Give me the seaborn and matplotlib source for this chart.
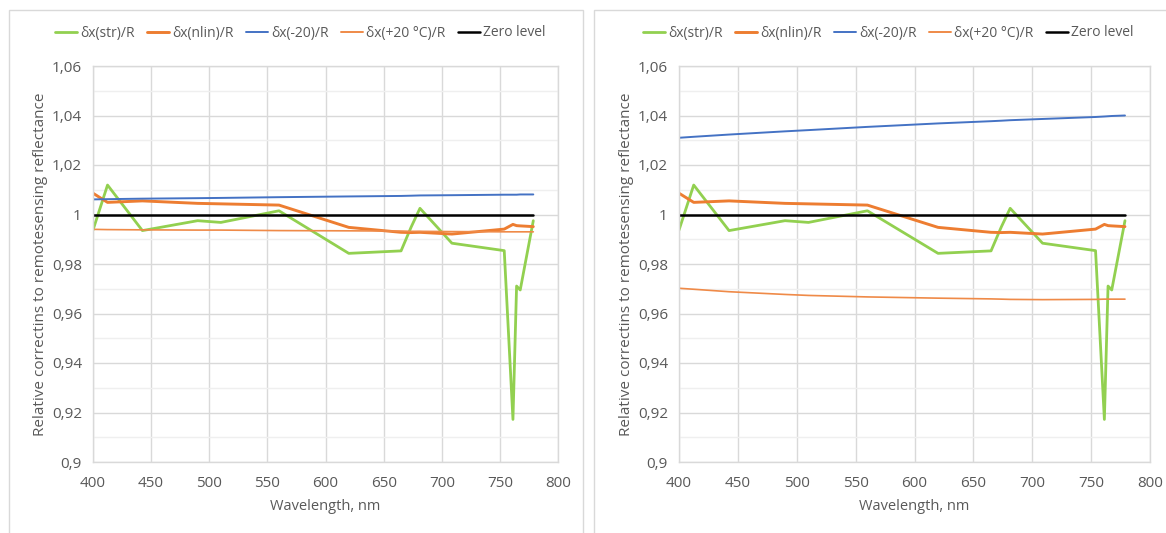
import matplotlib
matplotlib.use("Agg")
import matplotlib.pyplot as plt
import matplotlib.ticker as mticker
from matplotlib.patches import Rectangle
from matplotlib.lines import Line2D
import seaborn as sns

# ---------------- data ----------------
wavelength = [400, 412.5, 442.5, 490, 510, 560, 620, 665, 673.75, 681.25,
              708.75, 753.75, 761.25, 764.375, 767.5, 778.75]
dx_str = [0.9937, 1.0119, 0.9935, 0.9975, 0.9968, 1.0015, 0.9843, 0.9853,
          0.9950, 1.0025, 0.9884, 0.9854, 0.9172, 0.9711, 0.9695, 0.9975]
dx_nlin = [1.0086, 1.0049, 1.0055, 1.0045, 1.0043, 1.0038, 0.9948, 0.9928,
           0.9927, 0.9928, 0.9921, 0.9941, 0.9960, 0.9955, 0.9954, 0.9951]
dx_m20_left = [1.0061, 1.0062, 1.0064, 1.0066, 1.0067, 1.0070, 1.0073, 1.0075,
               1.0076, 1.0077, 1.0078, 1.0080, 1.0080, 1.0080, 1.0081, 1.0081]
dx_p20_left = [0.9940, 0.9939, 0.9938, 0.9937, 0.9937, 0.9935, 0.9934, 0.9933,
               0.9932, 0.9932, 0.9931, 0.9930, 0.9930, 0.9930, 0.9930, 0.9930]
dx_m20_right = [1.0310, 1.0314, 1.0323, 1.0336, 1.0341, 1.0354, 1.0368, 1.0377,
                1.0379, 1.0381, 1.0386, 1.0394, 1.0396, 1.0397, 1.0398, 1.0400]
dx_p20_right = [0.9702, 0.9698, 0.9688, 0.9677, 0.9673, 0.9667, 0.9662, 0.9659,
                0.9658, 0.9657, 0.9656, 0.9657, 0.9658, 0.9658, 0.9658, 0.9658]
zero_x = [400, 778.75]
zero_y = [1.0, 1.0]

legend_labels = ["δx(str)/R", "δx(nlin)/R", "δx(-20)/R", "δx(+20 °C)/R", "Zero level"]
x_label = "Wavelength, nm"
y_label = "Relative correctins to remotesensing reflectance"

# ---------------- style ----------------
sns.set_theme(style="white")
plt.rcParams["font.family"] = ["Open Sans", "DejaVu Sans"]

C_GREEN = "#92D050"
C_ORANGE = "#ED7D31"
C_BLUE = "#4472C4"
C_THIN = "#EF8A48"
C_TEXT = "#595959"
C_GRID = "#D9D9D9"
C_MINOR = "#EFEFEF"

W, H = 1166, 533
fig = plt.figure(figsize=(W / 100, H / 100), dpi=100)
fig.patch.set_facecolor("white")

def fx(px):
    return px / W

def fy(py):
    return 1 - py / H

# outer chart boxes
fig.patches.append(Rectangle((fx(9), fy(560)), fx(583) - fx(9), fy(10) - fy(560),
                             transform=fig.transFigure, fill=False,
                             edgecolor=C_GRID, lw=1.0))
fig.patches.append(Rectangle((fx(594), fy(560)), fx(1200) - fx(594), fy(10) - fy(560),
                             transform=fig.transFigure, fill=False,
                             edgecolor=C_GRID, lw=1.0))

def make_panel(left_px, right_px, m20, p20, legend_cx):
    ax = fig.add_axes([fx(left_px), fy(462), fx(right_px) - fx(left_px), fy(66) - fy(462)])
    sns.lineplot(x=wavelength, y=dx_str, ax=ax, color=C_GREEN, lw=2.0, sort=False)
    sns.lineplot(x=wavelength, y=dx_nlin, ax=ax, color=C_ORANGE, lw=2.1, sort=False)
    sns.lineplot(x=wavelength, y=m20, ax=ax, color=C_BLUE, lw=1.4, sort=False)
    sns.lineplot(x=wavelength, y=p20, ax=ax, color=C_THIN, lw=1.2, sort=False)
    sns.lineplot(x=zero_x, y=zero_y, ax=ax, color="black", lw=1.8, sort=False)

    ax.set_xlim(400, 800)
    ax.set_ylim(0.9, 1.06)
    ax.xaxis.set_major_locator(mticker.MultipleLocator(50))
    ax.yaxis.set_major_locator(mticker.MultipleLocator(0.02))
    ax.yaxis.set_minor_locator(mticker.MultipleLocator(0.01))
    ax.yaxis.set_major_formatter(mticker.FuncFormatter(
        lambda v, p: "{:g}".format(round(v, 2)).replace(".", ",")))
    ax.grid(True, which="major", color=C_GRID, lw=1.0)
    ax.grid(True, which="minor", axis="y", color=C_MINOR, lw=1.0)
    ax.set_axisbelow(True)
    for s in ax.spines.values():
        s.set_color(C_GRID)
        s.set_linewidth(1.0)
    ax.tick_params(axis="both", which="both", length=0, labelsize=11,
                   labelcolor=C_TEXT)
    ax.tick_params(axis="x", pad=10)
    ax.tick_params(axis="y", pad=8)
    ax.set_xlabel(x_label, fontsize=10.5, color=C_TEXT, labelpad=6)
    ax.set_ylabel(y_label, fontsize=11, color=C_TEXT, labelpad=3)

    handles = [Line2D([], [], color=C_GREEN, lw=2.0),
               Line2D([], [], color=C_ORANGE, lw=2.1),
               Line2D([], [], color=C_BLUE, lw=1.4),
               Line2D([], [], color=C_THIN, lw=1.4),
               Line2D([], [], color="black", lw=1.8)]
    leg = fig.legend(handles, legend_labels, loc="center",
                     bbox_to_anchor=(fx(legend_cx), fy(33)), ncol=5, frameon=False,
                     fontsize=10, handlelength=1.6, handletextpad=0.2,
                     columnspacing=0.9, borderaxespad=0)
    for t in leg.get_texts():
        t.set_color(C_TEXT)
    return ax

make_panel(93, 558, dx_m20_left, dx_p20_left, 300)
make_panel(679, 1150, dx_m20_right, dx_p20_right, 888)

fig.savefig("out.png", dpi=100, facecolor="white")
